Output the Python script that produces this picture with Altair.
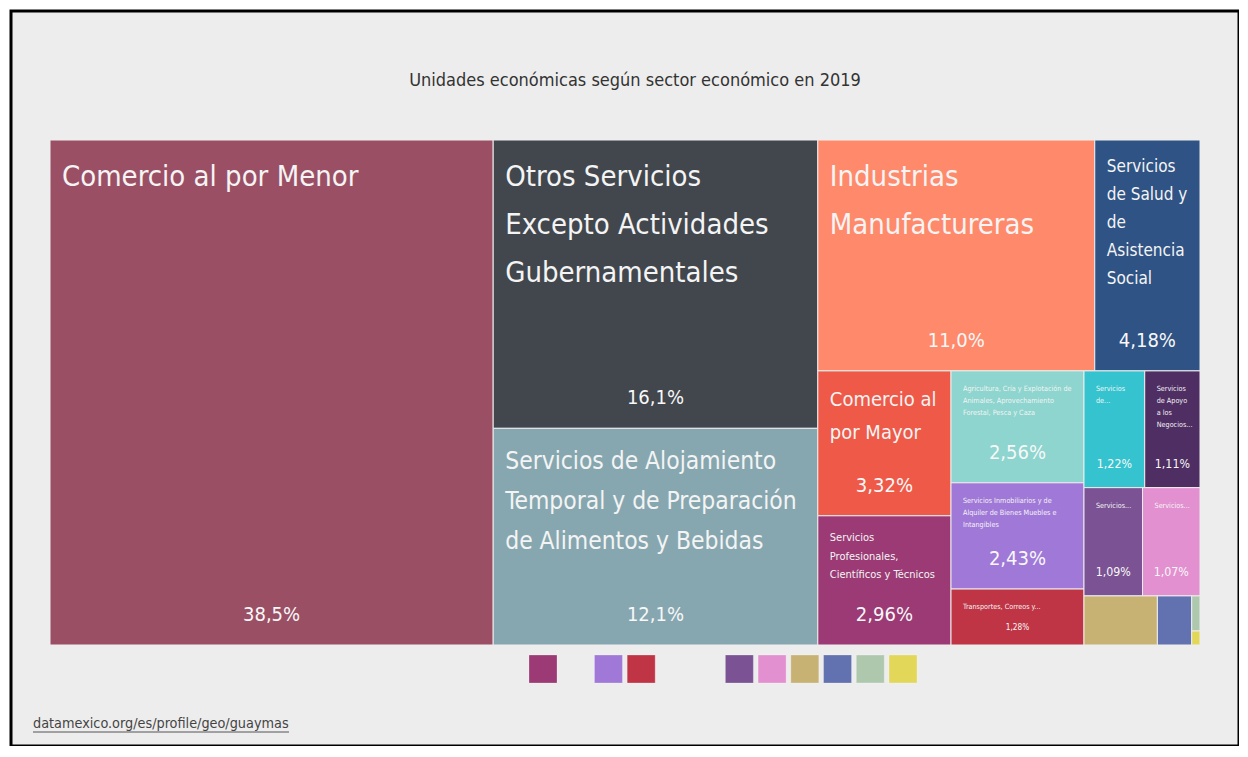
import altair as alt
import pandas as pd

# ---------------- data ----------------
sectors = [
    "Comercio al por Menor",
    "Otros Servicios Excepto Actividades Gubernamentales",
    "Servicios de Alojamiento Temporal y de Preparación de Alimentos y Bebidas",
    "Industrias Manufactureras",
    "Servicios de Salud y de Asistencia Social",
    "Comercio al por Mayor",
    "Servicios Profesionales, Científicos y Técnicos",
    "Agricultura, Cría y Explotación de Animales, Aprovechamiento Forestal, Pesca y Caza",
    "Servicios Inmobiliarios y de Alquiler de Bienes Muebles e Intangibles",
    "Transportes, Correos y Almacenamiento",
    "Servicios de Esparcimiento",
    "Servicios de Apoyo a los Negocios",
    "Servicios Educativos",
    "Servicios Financieros",
    "Información en Medios Masivos",
    "Construcción",
    "Minería",
    "Generación de Energía",
]
tile_labels = [
    "Comercio al por Menor",
    "Otros Servicios\nExcepto Actividades\nGubernamentales",
    "Servicios de Alojamiento\nTemporal y de Preparación\nde Alimentos y Bebidas",
    "Industrias\nManufactureras",
    "Servicios\nde Salud y\nde\nAsistencia\nSocial",
    "Comercio al\npor Mayor",
    "Servicios\nProfesionales,\nCientíficos y Técnicos",
    "Agricultura, Cría y Explotación de\nAnimales, Aprovechamiento\nForestal, Pesca y Caza",
    "Servicios Inmobiliarios y de\nAlquiler de Bienes Muebles e\nIntangibles",
    "Transportes, Correos y...",
    "Servicios\nde...",
    "Servicios\nde Apoyo\na los\nNegocios...",
    "Servicios...",
    "Servicios...",
    "", "", "", "",
]
shares = [38.5, 16.1, 12.1, 11.0, 4.18, 3.32, 2.96, 2.56, 2.43, 1.28,
          1.22, 1.11, 1.09, 1.07, 0.62, 0.29, 0.05, 0.02]
share_labels = ["38,5%", "16,1%", "12,1%", "11,0%", "4,18%", "3,32%", "2,96%",
                "2,56%", "2,43%", "1,28%", "1,22%", "1,11%", "1,09%", "1,07%",
                "", "", "", ""]
colors = ["#9B4F65", "#41474D", "#87A7B0", "#FF8A6B", "#2E5384", "#EF5A48",
          "#9B3A75", "#8DD5CE", "#A078D8", "#C03545", "#35C4CF", "#4F2E63",
          "#7B5394", "#E390D0", "#C8B273", "#6272B0", "#AEC8AE", "#E3D75A"]

legend_slots = [0, 2, 3, 6, 7, 8, 9, 10, 11]
legend_colors = ["#9B3A75", "#A078D8", "#C03545", "#7B5394", "#E390D0",
                 "#C8B273", "#6272B0", "#AEC8AE", "#E3D75A"]

title_text = "Unidades económicas según sector económico en 2019"
source_text = "datamexico.org/es/profile/geo/guaymas"

# ---------------- styles ----------------
# (font size, line height, vertical offset) of the sector-name label of each tile
name_styles = [(29, 48, 23), (29, 48, 23), (24.4, 40, 22), (29, 48, 23), (17, 28, 19),
               (20, 33, 19.5), (11, 18.5, 16.5), (7.2, 12, 14), (7.2, 12, 14),
               (7.2, 12, 14), (7.2, 12, 14), (7.2, 12, 14), (7.2, 12, 14),
               (7.2, 12, 14), None, None, None, None]
# (font size, vertical offset) of the percentage label of each tile
pct_styles = [(20, -20), (20, -20), (20, -20), (20, -20), (20, -20), (20, -20),
              (20, -20), (20, -20), (20, -20), (8.2, -13), (12.3, -17), (12.3, -17),
              (12.3, -17), (12.3, -17), None, None, None, None]
FONT = "DejaVu Sans Condensed, sans-serif"

# squarified row arrangement (as rendered in the source): strip orientation per row
rows = [([0], "col"), ([1, 2], "col"), ([3, 4], "row"), ([5, 6], "col"),
        ([7, 8, 9], "col"), ([10, 11], "row"), ([12, 13], "row"),
        ([14], "col"), ([15], "col"), ([16], "row"), ([17], "row")]


def tile(values, rows):
    x0, y0, x1, y1 = 0.0, 0.0, 1.0, 1.0
    remaining = sum(values)
    out = {}
    for idx, orient in rows:
        s = sum(values[i] for i in idx)
        f = s / remaining
        if orient == "col":
            xs = x0 + (x1 - x0) * f
            cy = y0
            for i in idx:
                h = (y1 - y0) * values[i] / s
                out[i] = (x0, cy, xs, cy + h)
                cy += h
            x0 = xs
        else:
            ys = y0 + (y1 - y0) * f
            cx = x0
            for i in idx:
                w = (x1 - x0) * values[i] / s
                out[i] = (cx, y0, cx + w, ys)
                cx += w
            y0 = ys
        remaining -= s
    return out


rects = tile(shares, rows)
n = len(shares)
df = pd.DataFrame({
    "sector": sectors,
    "label": tile_labels,
    "share": shares,
    "share_label": share_labels,
    "color": colors,
    "ngroup": [str(s) for s in name_styles],
    "pgroup": [str(s) for s in pct_styles],
    "x0": [rects[i][0] for i in range(n)],
    "y0": [rects[i][1] for i in range(n)],
    "x1": [rects[i][2] for i in range(n)],
    "y1": [rects[i][3] for i in range(n)],
})
df["xc"] = (df["x0"] + df["x1"]) / 2

W, H = 1228, 735
xscale = alt.Scale(domain=[-39 / 1150, (W - 39) / 1150], nice=False, zero=False)
yscale = alt.Scale(domain=[-129 / 505, (H - 129) / 505], nice=False, zero=False, reverse=True)

base = alt.Chart(df)

tiles = base.mark_rect(stroke="#EDEDED", strokeWidth=1).encode(
    x=alt.X("x0:Q", scale=xscale, axis=None),
    x2="x1:Q",
    y=alt.Y("y0:Q", scale=yscale, axis=None),
    y2="y1:Q",
    color=alt.Color("color:N", scale=None),
    tooltip=["sector:N", "share:Q"],
)

layers = [tiles]

for st in dict.fromkeys(s for s in name_styles if s):
    fs, lh, dy = st
    layers.append(
        base.transform_filter(alt.datum.ngroup == str(st)).mark_text(
            align="left", baseline="top", dx=12, dy=dy, fontSize=fs,
            lineHeight=lh, lineBreak="\n", font=FONT, color="#F4F4F4",
        ).encode(
            x=alt.X("x0:Q", scale=xscale, axis=None),
            y=alt.Y("y0:Q", scale=yscale, axis=None),
            text="label:N",
        )
    )

for st in dict.fromkeys(s for s in pct_styles if s):
    fs, dy = st
    layers.append(
        base.transform_filter(alt.datum.pgroup == str(st)).mark_text(
            align="center", baseline="bottom", dy=dy, fontSize=fs,
            font=FONT, color="#F8F8F8",
        ).encode(
            x=alt.X("xc:Q", scale=xscale, axis=None),
            y=alt.Y("y1:Q", scale=yscale, axis=None),
            text="share_label:N",
        )
    )

title = alt.Chart(pd.DataFrame({"t": [title_text]})).mark_text(
    align="center", baseline="middle", fontSize=18, font=FONT, color="#333333"
).encode(text="t:N", x=alt.value(624), y=alt.value(70))

source = alt.Chart(pd.DataFrame({"t": [source_text]})).mark_text(
    align="left", baseline="middle", fontSize=14.3, font=FONT, color="#444444"
).encode(text="t:N", x=alt.value(22), y=alt.value(713))

underline = alt.Chart(pd.DataFrame({"t": [source_text]})).mark_rule(
    color="#555555", strokeWidth=1
).encode(x=alt.value(22), x2=alt.value(278), y=alt.value(721))

legend = alt.Chart(pd.DataFrame({"slot": legend_slots, "color": legend_colors})).mark_square(
    size=784, opacity=1, filled=True, stroke="#FFFFFF", strokeOpacity=0.25, strokeWidth=1
).encode(
    x=alt.X("slot:O", scale=alt.Scale(type="point", domain=list(range(12)),
                                      range=[532, 892], padding=0), axis=None),
    y=alt.value(658),
    color=alt.Color("color:N", scale=None),
)

chart = alt.layer(*layers, legend, title, source, underline).resolve_scale(
    x="independent"
).properties(
    width=W, height=H,
    padding={"left": 3, "top": 3, "right": 0, "bottom": 0},
    autosize=alt.AutoSizeParams(type="none"),
    background="#FFFFFF",
).configure_view(
    fill="#EDEDED", stroke="#000000", strokeWidth=3
)

chart.save("out.html", embed_options={"renderer": "svg", "actions": False})
